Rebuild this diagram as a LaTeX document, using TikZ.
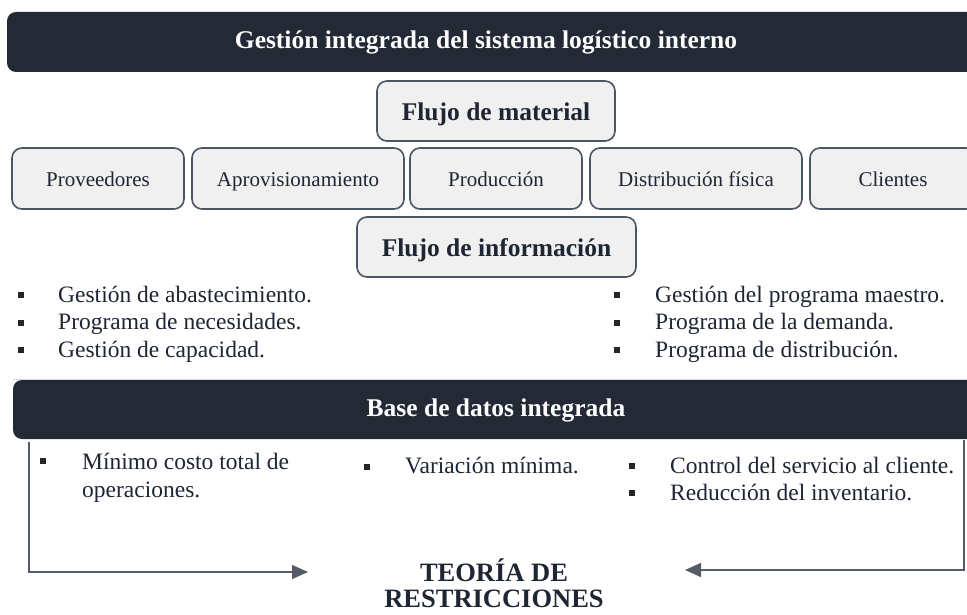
\documentclass[tikz,border=0pt]{standalone}
\usepackage{fontspec}
\setmainfont{Liberation Serif}
\usetikzlibrary{arrows.meta}
\definecolor{barcol}{HTML}{232A35}
\definecolor{boxfill}{HTML}{F0F0F0}
\definecolor{boxline}{HTML}{4B5563}
\definecolor{txt}{HTML}{1E2533}
\definecolor{linecol}{HTML}{555B66}
\begin{document}
\begin{tikzpicture}[x=1pt,y=-1pt,
  bartext/.style={text=white, inner sep=0pt, font=\bfseries\fontsize{25.5}{30}\selectfont},
  flowbox/.style={draw=boxline, line width=1.6pt, fill=boxfill, rounded corners=10pt, inner sep=0pt, text=txt, text height=16pt, text depth=0pt, font=\fontsize{21}{25}\selectfont},
  headbox/.style={flowbox, text height=19pt, text depth=0pt, font=\bfseries\fontsize{25.5}{30}\selectfont},
  item/.style={anchor=base west, text=txt, inner sep=0pt, font=\fontsize{23.5}{27.5}\selectfont},
  bul/.style={fill=black!85, minimum size=6pt, inner sep=0pt},
  conn/.style={draw=linecol, line width=1.4pt, -{Triangle[length=16pt,width=14pt]}},
  toc/.style={text=txt, inner sep=0pt, font=\bfseries\fontsize{26.5}{26}\selectfont}
]
\useasboundingbox (0,0) rectangle (967,615);
\clip (0,0) rectangle (967,615);
\fill[white] (0,0) rectangle (967,615);

% top bar
\fill[barcol, rounded corners=9pt] (7,12) rectangle (1000,72);
\node[bartext] (title) at (486,42) {Gestión integrada del sistema logístico interno};

% flujo de material
\node[headbox, minimum width=238pt, minimum height=60pt] (fmat) at (496,111) {Flujo de material};

% row of boxes
\node[flowbox, minimum width=172pt, minimum height=61pt] (prov) at (98,178.5) {Proveedores};
\node[flowbox, minimum width=212pt, minimum height=61pt] (aprov) at (298,178.5) {Aprovisionamiento};
\node[flowbox, minimum width=172pt, minimum height=61pt] (prod) at (496,178.5) {Producción};
\node[flowbox, minimum width=212pt, minimum height=61pt] (dist) at (696,178.5) {Distribución física};
\node[flowbox, minimum width=166pt, minimum height=61pt] (cli) at (893,178.5) {Clientes};

% flujo de informacion
\node[headbox, minimum width=279pt, minimum height=60pt] (finf) at (496.5,247) {Flujo de información};

% left bullets
\node[bul] (b1) at (21,295) {};
\node[bul] (b2) at (21,322.5) {};
\node[bul] (b3) at (21,350) {};
\node[item] (l1) at (58,302) {Gestión de abastecimiento.};
\node[item] (l2) at (58,329.5) {Programa de necesidades.};
\node[item] (l3) at (58,357) {Gestión de capacidad.};

% right bullets
\node[bul] (b4) at (617,295) {};
\node[bul] (b5) at (617,322.5) {};
\node[bul] (b6) at (617,350) {};
\node[item] (r1) at (655,302) {Gestión del programa maestro.};
\node[item] (r2) at (655,329.5) {Programa de la demanda.};
\node[item] (r3) at (655,357) {Programa de distribución.};

% base de datos bar
\draw[black!15, line width=1pt] (13,379) -- (1000,379);
\fill[barcol, rounded corners=9pt] (13,380) rectangle (1000,439);
\node[bartext] (base) at (496,410) {Base de datos integrada};

% bottom bullets
\node[bul] (c1) at (43,461) {};
\node[item] (m1) at (82,469) {Mínimo costo total de};
\node[item] (m1b) at (82,497) {operaciones.};
\node[bul] (c2) at (367,467) {};
\node[item] (m2) at (405,473) {Variación mínima.};
\node[bul] (c3) at (632,466) {};
\node[bul] (c4) at (632,493) {};
\node[item] (m3) at (670,473) {Control del servicio al cliente.};
\node[item] (m4) at (670,500) {Reducción del inventario.};

% teoria de restricciones
\node[toc, anchor=base] (toc1) at (494,581) {TEORÍA DE};
\node[toc, anchor=base] (toc2) at (494,607) {RESTRICCIONES};

% connectors
\coordinate (lstart) at (29,442);
\coordinate (ltip) at (308,572);
\coordinate (rstart) at (964,440);
\coordinate (rtip) at (685,570);
\draw[conn] (lstart) |- (ltip);
\draw[conn] (rstart) |- (rtip);
\end{tikzpicture}
\end{document}
